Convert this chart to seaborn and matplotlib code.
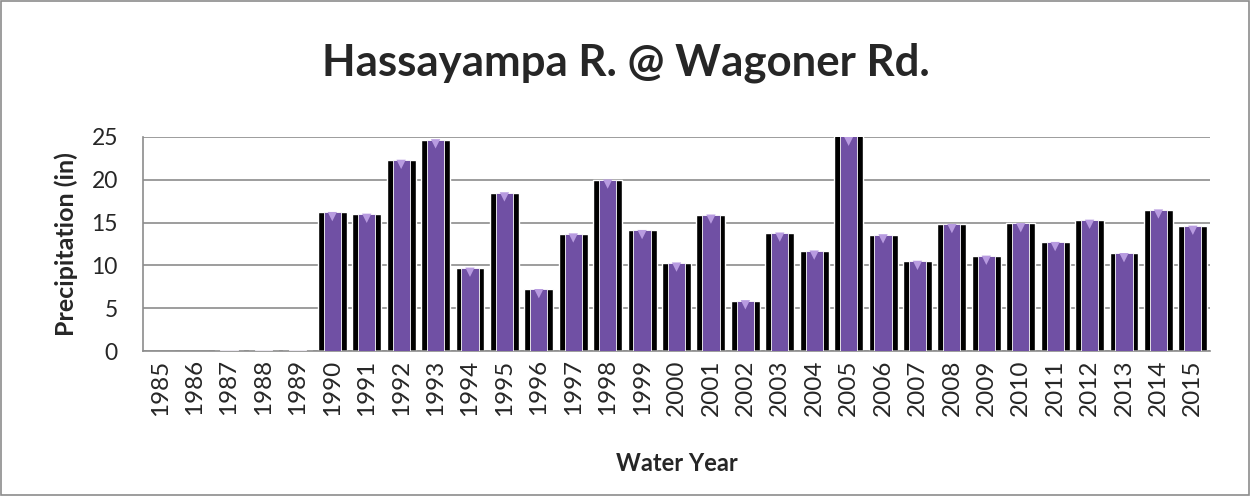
import numpy as np
import pandas as pd
import matplotlib.pyplot as plt
import seaborn as sns
from matplotlib.patches import Rectangle

# Water years and precipitation
years = [str(y) for y in range(1985, 2016)]
precip = [0.0, 0.0, 0.1, 0.1, 0.1, 16.2, 16.0, 22.3, 24.7, 9.7,
          18.5, 7.2, 13.7, 20.0, 14.1, 10.3, 15.9, 5.9, 13.8, 11.7,
          25.6, 13.6, 10.5, 14.8, 11.1, 14.9, 12.7, 15.3, 11.4, 16.5, 14.6]

df = pd.DataFrame({'Year': years, 'Precip': precip})
df['Top'] = df['Precip'].clip(upper=25)

sns.set_style('white')
plt.rcParams['font.family'] = ['Lato', 'DejaVu Sans']

fig = plt.figure(figsize=(12.52, 4.96), dpi=100)
ax = fig.add_axes([0.1142, 0.2923, 0.8523, 0.4315])

# black shadow bar, then purple bar on top
sns.barplot(data=df, x='Year', y='Precip', color='black', width=0.84,
            saturation=1, ax=ax, zorder=2)
sns.barplot(data=df, x='Year', y='Precip', color='#7050a4', width=0.5,
            saturation=1, ax=ax, zorder=3, edgecolor='white', linewidth=0.6)
# light purple highlight marker at bar tops
tops = df[df['Precip'] > 1]
sns.scatterplot(data=tops, x='Year', y=tops['Top'] - 0.5, marker='v', s=45,
                color='#b89be0', edgecolor='none', ax=ax, zorder=4, clip_on=True)

ax.set_ylim(0, 25)
ax.set_xlim(-0.5, len(years) - 0.5)
ax.set_yticks([0, 5, 10, 15, 20, 25])
ax.yaxis.grid(True, color='#8c8c8c', linewidth=1.2, zorder=0)
ax.set_axisbelow(True)

for s in ['top', 'right']:
    ax.spines[s].set_visible(False)
for s in ['left', 'bottom']:
    ax.spines[s].set_color('#8c8c8c')
    ax.spines[s].set_linewidth(1.2)

ax.set_xticks(np.arange(len(years)))
ax.set_xticklabels(years, rotation=90)
ax.set_xticks(np.arange(len(years) + 1) - 0.5, minor=True)
ax.tick_params(axis='x', which='major', length=0, labelsize=17.5, pad=6)
ax.tick_params(axis='x', which='minor', length=6, color='#8c8c8c', width=1.2)
ax.tick_params(axis='y', length=6, color='#8c8c8c', width=1.2, labelsize=16.5, pad=12)

ax.set_xlabel('Water Year', fontsize=17, fontweight='bold', labelpad=26)
ax.set_ylabel('Precipitation (in)', fontsize=18, fontweight='bold', labelpad=10)
fig.suptitle('Hassayampa R. @ Wagoner Rd.', fontsize=31.5, fontweight='bold', y=0.915)

# outer chart border
fig.patches.append(Rectangle((0.001, 0.003), 0.997, 0.994, transform=fig.transFigure,
                             fill=False, edgecolor='#8c8c8c', linewidth=1.2))

fig.savefig('out.png', dpi=100)
